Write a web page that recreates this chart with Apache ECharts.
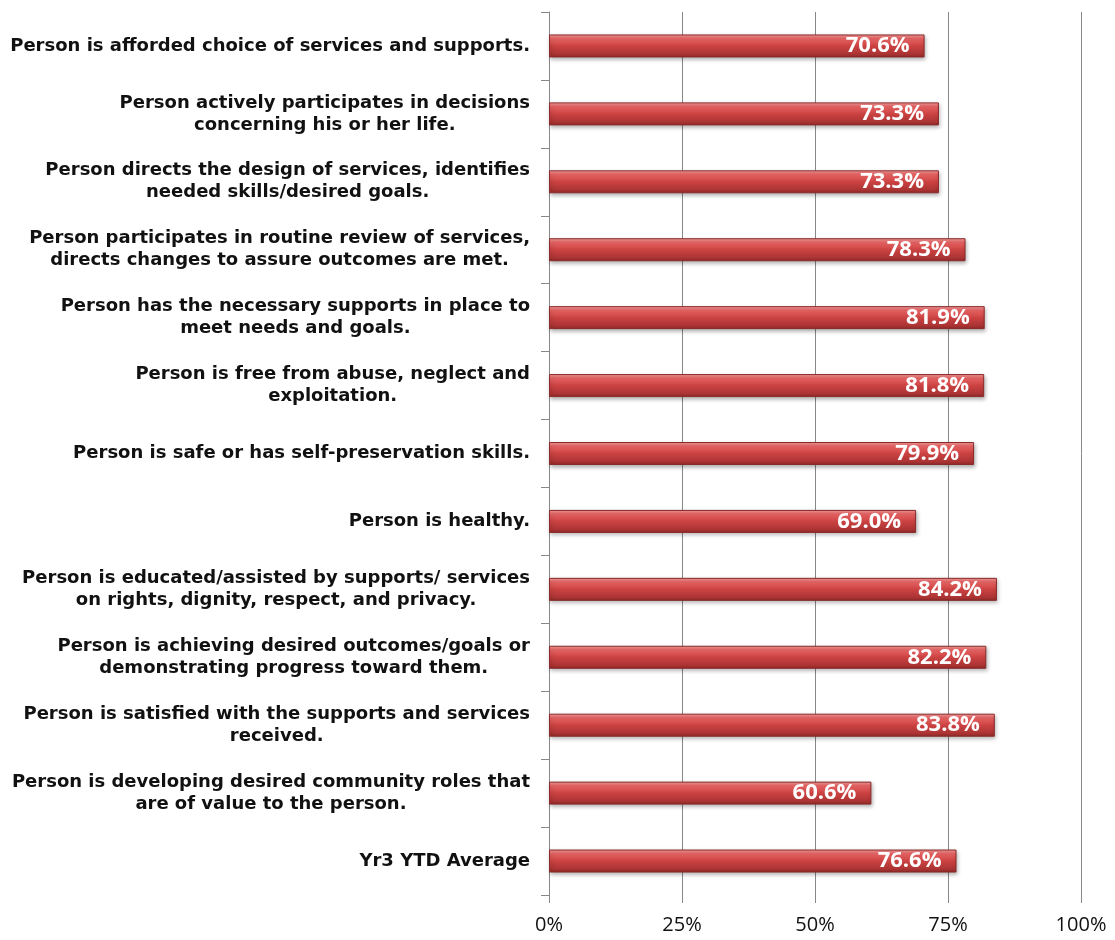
<!DOCTYPE html>
<html>
<head>
<meta charset="utf-8">
<script src="https://cdn.jsdelivr.net/npm/echarts@6/dist/echarts.min.js"></script>
<style>
  html, body { margin: 0; padding: 0; background: #fff; }
  #chart { width: 1115px; height: 940px; }
</style>
</head>
<body>
<div id="chart"></div>
<script>
const categories = [
  'Person is afforded choice of services and supports.',
  'Person actively participates in decisions\nconcerning his or her life.',
  'Person directs the design of services, identifies\nneeded skills/desired goals.',
  'Person participates in routine review of services,\ndirects changes to assure outcomes are met.',
  'Person has the necessary supports in place to\nmeet needs and goals.',
  'Person is free from abuse, neglect and\nexploitation.',
  'Person is safe or has self-preservation skills.',
  'Person is healthy.',
  'Person is educated/assisted by supports/ services\non rights, dignity, respect, and privacy.',
  'Person is achieving desired outcomes/goals or\ndemonstrating progress toward them.',
  'Person is satisfied with the supports and services\nreceived.',
  'Person is developing desired community roles that\nare of value to the person.',
  'Yr3 YTD Average'
]
const values = [70.6, 73.3, 73.3, 78.3, 81.9, 81.8, 79.9, 69.0, 84.2, 82.2, 83.8, 60.6, 76.6]
const xTicks = [0, 25, 50, 75, 100]

const chart = echarts.init(document.getElementById('chart'))

// bar fill: bright top edge, red body, darker bottom
const barFill = new echarts.graphic.LinearGradient(0, 0, 0, 1, [
  { offset: 0, color: '#f6a0a0' },
  { offset: 0.18, color: '#e86464' },
  { offset: 0.5, color: '#cc4242' },
  { offset: 0.85, color: '#ac3434' },
  { offset: 1, color: '#902828' }
])

chart.setOption({
  animation: false,
  grid: { left: 549, right: 34, top: 12, bottom: 45 },
  xAxis: {
    type: 'value',
    min: 0,
    max: 100,
    interval: 25,
    axisLine: { show: false },
    axisTick: { show: true, length: 8, lineStyle: { color: '#888' } },
    splitLine: { show: true, lineStyle: { color: '#888', width: 1 } },
    axisLabel: {
      color: '#111',
      fontSize: 20,
      fontFamily: 'Open Sans',
      margin: 20,
      formatter: v => xTicks.includes(v) ? v + '%' : ''
    }
  },
  yAxis: {
    type: 'category',
    inverse: true,
    data: categories,
    axisLine: { show: true, lineStyle: { color: '#888' } },
    axisTick: { show: true, length: 8, lineStyle: { color: '#888' } },
    axisLabel: {
      color: '#111',
      fontSize: 18,
      fontWeight: 'bold',
      fontFamily: 'DejaVu Sans',
      align: 'right',
      lineHeight: 22,
      margin: 19,
      // each line centred inside the right-aligned block
      formatter: v => v.split('\n').map(s => '{c|' + s + '}').join('\n'),
      rich: {
        c: {
          align: 'center',
          color: '#111',
          fontSize: 18,
          fontWeight: 'bold',
          fontFamily: 'DejaVu Sans',
          lineHeight: 22
        }
      }
    }
  },
  series: [{
    type: 'bar',
    data: values,
    barWidth: 23,
    itemStyle: {
      color: barFill,
      borderColor: '#8a2a2a',
      borderWidth: 1,
      shadowColor: 'rgba(0,0,0,0.3)',
      shadowBlur: 4,
      shadowOffsetX: 1,
      shadowOffsetY: 2
    },
    label: {
      show: true,
      position: 'insideRight',
      distance: 15,
      color: '#fff',
      fontSize: 22,
      fontWeight: 'bold',
      fontFamily: 'Open Sans',
      formatter: p => p.value.toFixed(1) + '%'
    }
  }]
})
</script>
</body>
</html>
